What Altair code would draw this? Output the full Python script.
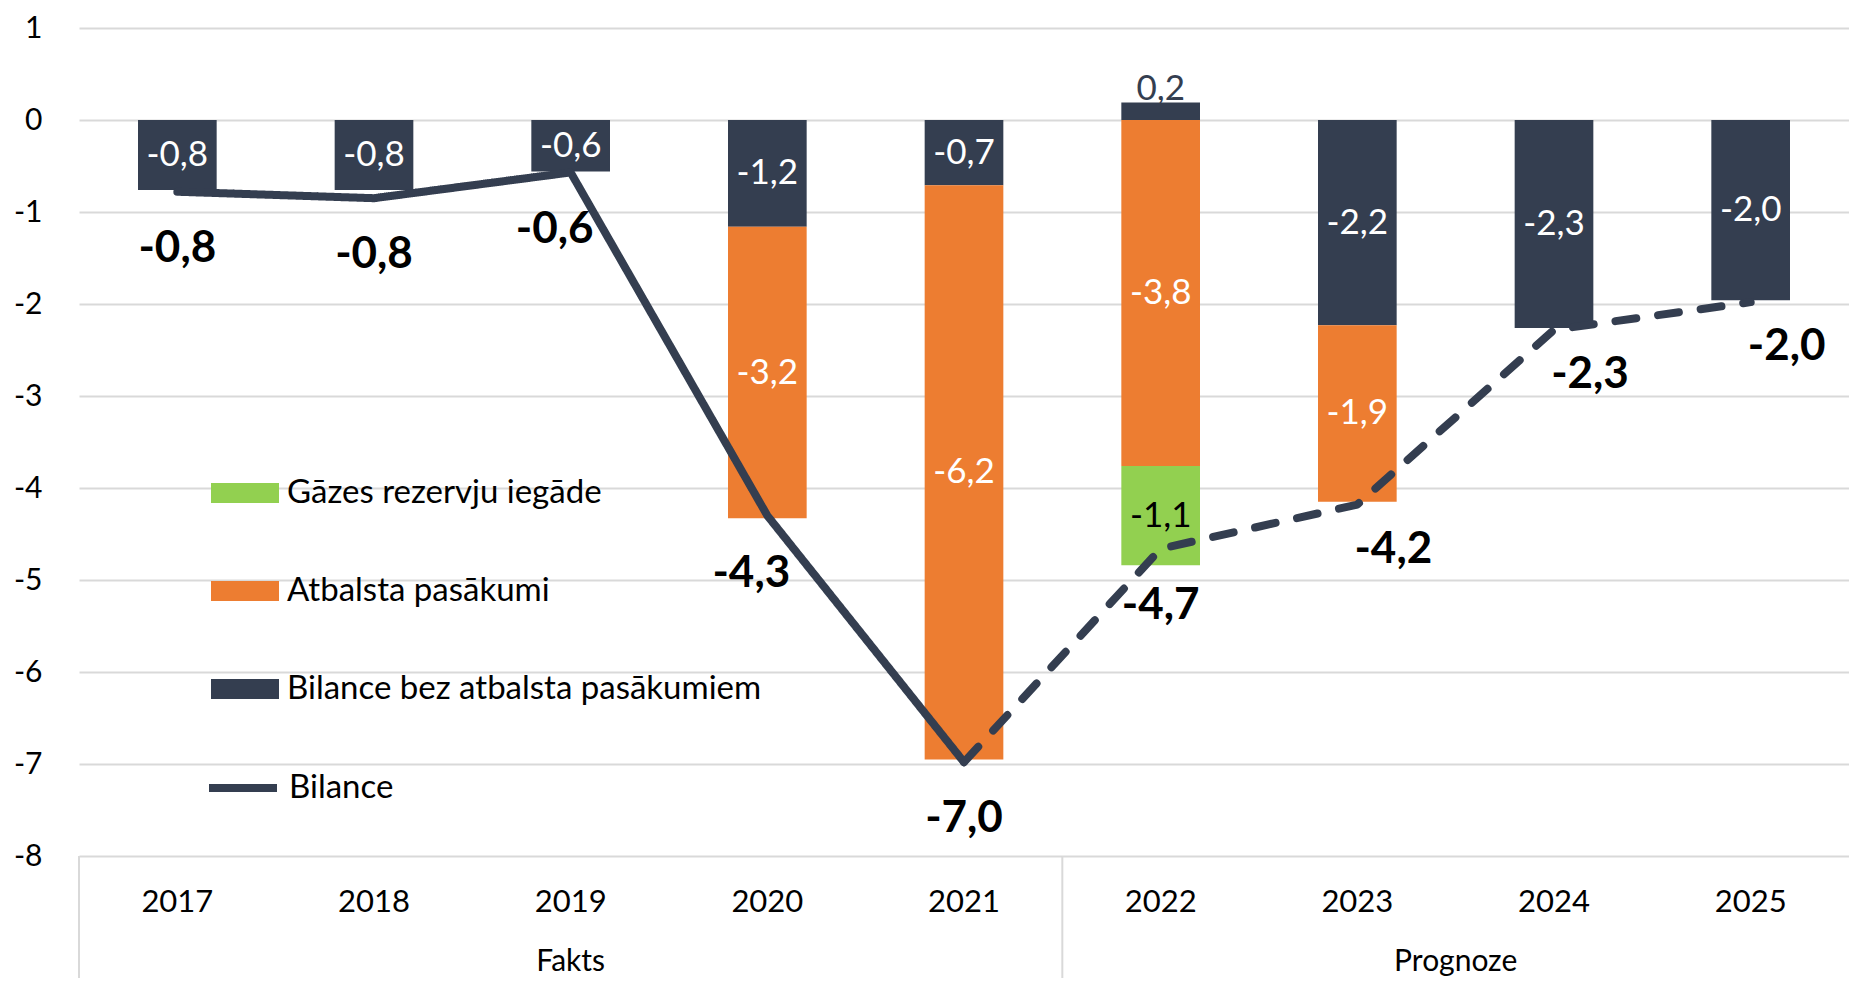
import altair as alt
import pandas as pd

# ---- data ----
years = ["2017", "2018", "2019", "2020", "2021", "2022", "2023", "2024", "2025"]
bez_atbalsta = [-0.76, -0.76, -0.56, -1.16, -0.71, 0.19, -2.23, -2.26, -1.96]
atbalsta = [0, 0, 0, -3.17, -6.24, -3.76, -1.92, 0, 0]
gazes = [0, 0, 0, 0, 0, -1.08, 0, 0, 0]
bilance = [-0.78, -0.85, -0.57, -4.30, -6.98, -4.66, -4.18, -2.28, -1.98]
fakts_years = ["2017", "2018", "2019", "2020", "2021"]
group_names = ["Fakts", "Prognoze"]
group_centers = [2.5, 7.0]
separators = [0, 5]

S_GAZ = "Gāzes rezervju iegāde"
S_ATB = "Atbalsta pasākumi"
S_BEZ = "Bilance bez atbalsta pasākumiem"

DARK = "#343E50"
ORANGE = "#ED7D31"
GREEN = "#92D050"
GRID = "#D9D9D9"
FONT = "Lato"

# ---- stacked bar segments (Excel style: negatives and positives stack apart) ----
rows = []
for i, yr in enumerate(years):
    neg, pos = 0.0, 0.0
    for order, (name, vals) in enumerate([(S_BEZ, bez_atbalsta), (S_ATB, atbalsta), (S_GAZ, gazes)]):
        v = vals[i]
        if v == 0:
            continue
        if v < 0:
            y0, y1 = neg, neg + v
            neg += v
        else:
            y0, y1 = pos, pos + v
            pos += v
        rows.append({"year": yr, "series": name, "v": v, "y0": y0, "y1": y1,
                     "mid": (y0 + y1) / 2, "order": order})
bar_df = pd.DataFrame(rows)

line_rows = []
for yr, v in zip(years, bilance):
    if yr in fakts_years:
        line_rows.append({"year": yr, "v": v, "seg": "fakts", "name": "Bilance"})
    if yr == fakts_years[-1] or yr not in fakts_years:
        line_rows.append({"year": yr, "v": v, "seg": "prognoze", "name": "Bilance"})
line_df = pd.DataFrame(line_rows)
total_df = pd.DataFrame({"year": years, "v": bilance})
group_df = pd.DataFrame({"name": group_names, "pos": group_centers})
sep_df = pd.DataFrame({"pos": separators})

W, H = 1770, 828
TOP = 20
BOTTOM = 122

label_expr = "replace(replace(format(datum.v, '.1f'), '.', ','), '\u2212', '-')"

xscale = alt.Scale(domain=years, paddingInner=0.6, paddingOuter=0.3)
yscale = alt.Scale(domain=[-8, 1], nice=False, zero=False)

X = alt.X("year:N", sort=years, scale=xscale,
          axis=alt.Axis(title=None, labelAngle=0, domain=False, ticks=False, grid=False,
                        labelFont=FONT, labelFontSize=31, labelColor="black",
                        labelBaseline="middle", labelPadding=46))

bars = alt.Chart(bar_df).mark_bar(strokeWidth=0).encode(
    x=X,
    y=alt.Y("y0:Q", scale=yscale,
            axis=alt.Axis(title=None, values=list(range(-8, 2)), labelExpr="'' + datum.value",
                          grid=True, gridColor=GRID, gridWidth=2, domain=False, ticks=False,
                          labelFont=FONT, labelFontSize=30, labelColor="black", labelPadding=37)),
    y2="y1:Q",
    color=alt.Color("series:N",
                    scale=alt.Scale(domain=[S_GAZ, S_ATB, S_BEZ], range=[GREEN, ORANGE, DARK]),
                    legend=alt.Legend(title=None, orient="none", legendX=132, legendY=431,
                                      symbolType="M-1,-0.294H1V0.294H-1Z", symbolSize=4624,
                                      symbolStrokeWidth=0, symbolOpacity=1,
                                      labelFont=FONT, labelFontSize=33, labelColor="black",
                                      labelLimit=800, labelOffset=8, rowPadding=47, padding=0)),
)

line = alt.Chart(line_df).mark_line(strokeWidth=8, strokeCap="round", strokeJoin="round").encode(
    x=alt.X("year:N", sort=years),
    y=alt.Y("v:Q"),
    detail="seg:N",
    strokeDash=alt.StrokeDash("seg:N", scale=alt.Scale(domain=["fakts", "prognoze"],
                                                        range=[[1, 0], [21, 22]]), legend=None),
    stroke=alt.Stroke("name:N", scale=alt.Scale(domain=["Bilance"], range=[DARK]),
                      legend=alt.Legend(title=None, orient="none", legendX=126, legendY=722,
                                        symbolType="M-1,0H1", symbolSize=4624,
                                        symbolStrokeWidth=8, labelFont=FONT, labelFontSize=33,
                                        labelColor="black", labelLimit=800, labelOffset=8,
                                        padding=0)),
)

inside = alt.Chart(bar_df).transform_filter("datum.v < 0").transform_calculate(
    label=label_expr
).mark_text(font=FONT, fontSize=35, baseline="middle").encode(
    x=alt.X("year:N", sort=years),
    y=alt.Y("mid:Q"),
    text="label:N",
    color=alt.condition(alt.datum.series == S_GAZ, alt.value("black"), alt.value("white")),
)

outside = alt.Chart(bar_df).transform_filter("datum.v > 0").transform_calculate(
    label=label_expr
).mark_text(font=FONT, fontSize=35, baseline="alphabetic", dy=-3, color=DARK).encode(
    x=alt.X("year:N", sort=years),
    y=alt.Y("y1:Q"),
    text="label:N",
)

# total labels, nudged sideways away from the line like in the original
left_years = ["2019", "2020"]
right_years = ["2023", "2024", "2025"]


def totals_layer(flt, dx, dy):
    return alt.Chart(total_df).transform_filter(flt).transform_calculate(
        label=label_expr
    ).mark_text(font=FONT, fontSize=44, fontWeight="bold", baseline="middle", dy=dy, dx=dx,
                color="black").encode(
        x=alt.X("year:N", sort=years),
        y=alt.Y("v:Q"),
        text="label:N",
    )


center_years = [y for y in years if y not in left_years + right_years]
totals_c = totals_layer(alt.FieldOneOfPredicate(field="year", oneOf=center_years), 0, 57)
totals_l = totals_layer(alt.FieldOneOfPredicate(field="year", oneOf=left_years), -16, 58)
totals_r = totals_layer(alt.FieldOneOfPredicate(field="year", oneOf=right_years), 36, 45)

main = alt.layer(bars, line, inside, outside, totals_c, totals_l, totals_r)

qx = alt.Scale(domain=[0, 9], nice=False, zero=False)
seps = alt.Chart(sep_df).mark_rule(color=GRID, strokeWidth=2).encode(
    x=alt.X("pos:Q", scale=qx, axis=None),
    y=alt.value(H),
    y2=alt.value(H + BOTTOM),
)
glabels = alt.Chart(group_df).mark_text(font=FONT, fontSize=30, color="black",
                                         baseline="middle").encode(
    x=alt.X("pos:Q", scale=qx, axis=None),
    y=alt.value(H + BOTTOM - 16),
    text="name:N",
)

chart = alt.layer(main, seps, glabels).resolve_scale(x="independent").properties(
    width=W, height=H,
    padding={"left": 71, "top": TOP, "right": 0, "bottom": BOTTOM},
    autosize="none",
    background="white",
).configure_view(stroke=None)

chart.save("out.html", embed_options={"renderer": "svg", "actions": False})
